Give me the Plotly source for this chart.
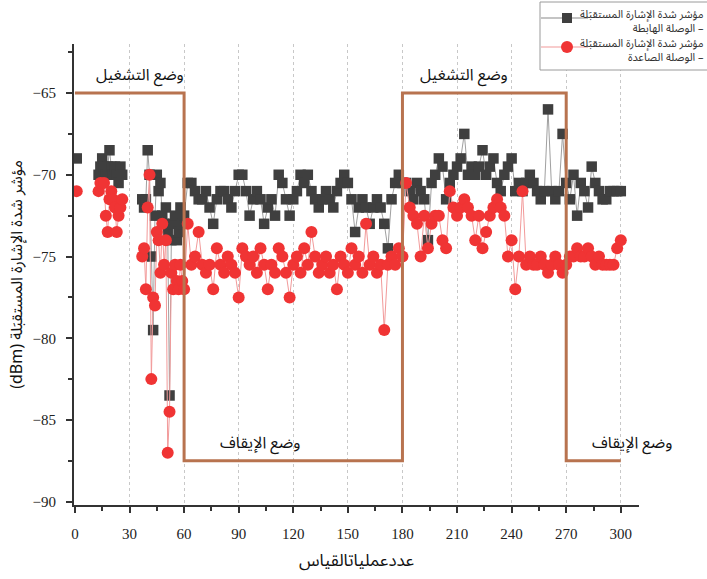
import plotly.graph_objects as go

# ---- Downlink RSSI (grey squares) ----
dl_early_x = [1, None, 13, 14, 15, 16, 17, 18, 19, 20, 21, 22, 23, 24, 25, 26, None,
              37, 38, 39, 40, 41, 42, 43, 44, 45, 46, 47, 48, 49, 50, 51, 52, 53, 54, 55, 56, 57, 58, 59, 60]
dl_early_y = [-69, None, -70, -69.5, -69, -69.5, -70, -69.5, -68.5, -69.5, -70, -69.5, -70, -70.5, -69.5, -70, None,
              -71.5, -72, -71.5, -68.5, -70, -75, -79.5, -72.5, -70, -71, -70.5, -72.5, -73, -72, -73.5, -83.5,
              -74, -73, -72.5, -74, -73.5, -72, -73, -72.5]
# every second measurement from 62 onwards
dl_off_y = [-70.5, -70.5, -71, -71.5, -71.5, -71, -72, -73, -71.5, -71, -71, -71.5, -72, -71, -70, -70,
            -71, -72.5, -71.5, -71, -71.5, -73, -72, -71.5, -72.5, -70, -70.5, -71.5, -72.5, -71.5, -71, -70,
            -70.5, -70, -71, -71.5, -72, -71.5, -71, -71.5, -72, -71, -70.5, -70, -70.5, -71.5, -73.5, -72,
            -71.5, -72, -73, -72, -71.5, -72, -73, -74.5, -71.5, -70.5, -70, -70.5]
dl_on_y = [-70.5, -71, -71.5, -70.5, -71, -71.5, -74, -70.5, -70, -69, -69.5, -71.5, -70.5, -70, -69.5,
           -69, -67.5, -70, -69.5, -70, -69.5, -68.5, -70, -69.5, -69, -70.5, -71, -70, -69.5, -69, -71,
           -70.5, -71, -70.5, -70, -70.5, -71, -71.5, -71, -66, -71, -71.5, -71, -67.5, -70.5, -71.5, -70,
           -72.5, -70.5, -71, -72, -69.5, -70.5, -71, -71.5, -71.5, -71, -71, -71, -71]

# ---- Uplink RSSI (red circles) ----
ul_early_x = [1, None, 13, 14, 16, 17, 18, 19, 20, 21, 22, 23, 24, 25, 26, None,
              37, 38, 39, 40, 41, 42, 43, 44, 45, 46, 47, 48, 49, 50, 51, 52, 53, 54, 55, 56, 57, 58, 59, 60]
ul_early_y = [-71, None, -71, -70.5, -70.5, -72.5, -73.5, -71.5, -71, -71.5, -72, -73.5, -72.5, -72, -71.5, None,
              -75, -74.5, -77, -72, -70, -82.5, -77.5, -78, -73.5, -74, -76, -73, -75.5, -74, -87, -84.5,
              -76, -77, -75.5, -76.5, -77, -75.5, -76.5, -77]
ul_off_y = [-73, -75.5, -75, -73.5, -75.5, -76, -75.5, -77, -74.5, -75.5, -76, -75, -75.5, -76, -77.5,
            -74.5, -75, -75.5, -75, -76, -74.5, -75.5, -77, -75.5, -76, -74.5, -75, -76, -77.5, -75.5, -75,
            -76, -74.5, -75.5, -73.5, -75, -76, -75.5, -75, -76, -75.5, -77, -75, -75.5, -76, -74.5, -75.5,
            -75, -76, -73, -75.5, -75, -76, -75.5, -79.5, -75.5, -75, -75.5, -74.5, -75]
ul_on_y = [-70.5, -72, -72.5, -73, -75, -72.5, -74.5, -73, -72.5, -72.5, -74, -74.5, -71, -72, -72.5, -72,
           -71.5, -72, -72.5, -74, -72.5, -74.5, -73.5, -72.5, -72, -71.5, -72, -72.5, -75, -74, -77, -75,
           -71, -75.5, -75, -75.5, -75.5, -75, -75.5, -76, -75.5, -75, -75.5, -76, -75.5, -75, -75, -74.5,
           -75, -75, -74.5, -75, -75.5, -75, -75.5, -75.5, -75.5, -75.5, -74.5, -74]

# ---- Device state (operating / stopped) ----
state_x = [0, 60, 60, 180, 180, 270, 270, 300]
state_y = [-65, -65, -87.5, -87.5, -65, -65, -87.5, -87.5]

x_ticks = [0, 30, 60, 90, 120, 150, 180, 210, 240, 270, 300]
y_ticks = [-90, -85, -80, -75, -70, -65]

dl_label = "مؤشر شدة الإشارة المستقبَلة<br>الوصلة الهابطة –"
ul_label = "مؤشر شدة الإشارة المستقبَلة<br>الوصلة الصاعدة –"
on_label = "وضع التشغيل"
off_label = "وضع الإيقاف"
x_title = "عددعملياتالقياس"
y_title = "(dBm) مؤشر شدة الإشارة المستقبَلة"


def grid_x(start, values):
    return list(range(start, start + 2 * len(values), 2))


dl_x = dl_early_x + grid_x(62, dl_off_y) + grid_x(62 + 2 * len(dl_off_y), dl_on_y)
dl_y = dl_early_y + dl_off_y + dl_on_y
ul_x = ul_early_x + grid_x(62, ul_off_y) + grid_x(62 + 2 * len(ul_off_y), ul_on_y)
ul_y = ul_early_y + ul_off_y + ul_on_y

AR_FONT = "Noto Sans Arabic, DejaVu Sans, sans-serif"
NUM_FONT = "Liberation Serif, Times New Roman, serif"

DL_MARK, DL_LINE = "#3f3f3f", "#a0a0a0"
UL_MARK, UL_LINE = "#f03434", "#f29a9a"
STATE_COLOR = "#b8734f"

W, H = 707, 579
ML, MR, MT, MB = 74, 68, 44, 74
PW, PH = W - ML - MR, H - MT - MB


def px(xp):
    return (xp - ML) / PW


def py(yp):
    return 1 - (yp - MT) / PH


fig = go.Figure()
fig.add_trace(go.Scatter(
    x=dl_x, y=dl_y, mode="lines+markers", name="الوصلة الهابطة", connectgaps=False,
    line=dict(color=DL_LINE, width=1), showlegend=False,
    marker=dict(symbol="square", size=10.5, color=DL_MARK),
))
fig.add_trace(go.Scatter(
    x=ul_x, y=ul_y, mode="lines+markers", name="الوصلة الصاعدة", connectgaps=False,
    line=dict(color=UL_LINE, width=1), showlegend=False,
    marker=dict(symbol="circle", size=12, color=UL_MARK),
))
fig.add_trace(go.Scatter(
    x=state_x, y=state_y, mode="lines", showlegend=False, hoverinfo="skip",
    line=dict(color=STATE_COLOR, width=3),
))

for ax_, ay_, txt in [(35.5, -63.9, on_label), (214, -63.9, on_label),
                      (101.5, -86.4, off_label), (306, -86.4, off_label)]:
    fig.add_annotation(x=ax_, y=ay_, text=txt, showarrow=False,
                       font=dict(family=AR_FONT, size=16, color="#111"),
                       xanchor="center", yanchor="middle")

# legend box in the top-right corner
shapes = [
    dict(type="rect", xref="paper", yref="paper", x0=px(540), x1=px(716), y0=py(70), y1=py(2),
         line=dict(color="#9a9a9a", width=1), fillcolor="white", layer="above"),
    dict(type="line", xref="paper", yref="paper", x0=px(541), x1=px(588), y0=py(18), y1=py(18),
         line=dict(color="#8a8a8a", width=1.2), layer="above"),
    dict(type="rect", xref="paper", yref="paper", x0=px(562), x1=px(572), y0=py(23), y1=py(13),
         line=dict(width=0), fillcolor=DL_MARK, layer="above"),
    dict(type="line", xref="paper", yref="paper", x0=px(541), x1=px(588), y0=py(47), y1=py(47),
         line=dict(color=UL_LINE, width=1.2), layer="above"),
    dict(type="circle", xref="paper", yref="paper", x0=px(561), x1=px(573), y0=py(53), y1=py(41),
         line=dict(width=0), fillcolor=UL_MARK, layer="above"),
]
for yc, txt in [(21.5, dl_label), (51, ul_label)]:
    fig.add_annotation(xref="paper", yref="paper", x=px(706), y=py(yc), text=txt, showarrow=False,
                       xanchor="right", yanchor="middle", align="right",
                       font=dict(family=AR_FONT, size=11, color="#333"))

axis_common = dict(
    showline=True, linecolor="#333", linewidth=2, mirror=False,
    ticks="outside", ticklen=6, tickwidth=2, tickcolor="#333",
    tickfont=dict(family=NUM_FONT, size=15, color="#222"),
    zeroline=False,
)

fig.update_xaxes(
    range=[-0.5, 310], tickvals=x_ticks, ticktext=[str(v) for v in x_ticks],
    showgrid=True, gridcolor="#c8c8c8", griddash="3px,3px", gridwidth=1,
    minor=dict(dtick=15, tick0=0, ticks="outside", ticklen=4, tickcolor="#333", showgrid=False),
    ticklabelstandoff=8,
    title=dict(text=x_title, font=dict(family=AR_FONT, size=17, color="#111"), standoff=14),
    **axis_common,
)
fig.update_yaxes(
    range=[-90.2, -62], tickvals=y_ticks,
    ticktext=["\u221290", "\u221285", "\u221280", "\u221275", "\u221270", "\u221265"],
    showgrid=False,
    minor=dict(dtick=2.5, tick0=-90, ticks="outside", ticklen=4, tickcolor="#333", showgrid=False),
    ticklabelstandoff=7,
    title=dict(text=y_title, font=dict(family=AR_FONT, size=16, color="#111"), standoff=6),
    **axis_common,
)

fig.update_layout(
    width=W, height=H,
    margin=dict(l=ML, r=MR, t=MT, b=MB, autoexpand=False),
    plot_bgcolor="white", paper_bgcolor="white",
    showlegend=False,
    shapes=shapes,
)

fig.write_html("out.html")
